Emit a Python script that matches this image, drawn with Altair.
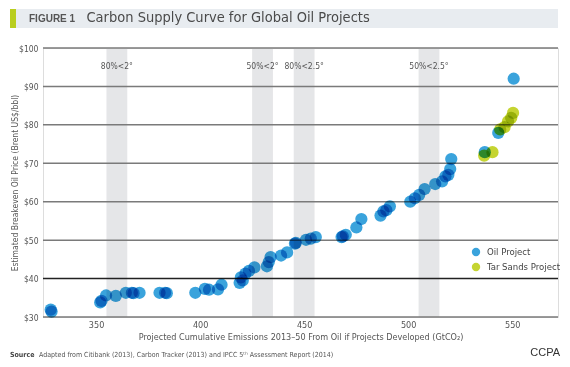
import altair as alt
import pandas as pd

# ---- data ----
oil_x = [328.2, 328.6, 352.0, 352.6, 354.8, 359.5, 364.3, 367.2, 368.0, 370.9,
         380.5, 383.2, 384.0, 397.7, 402.3, 404.3, 408.6, 410.3, 419.0, 419.6,
         420.5, 421.8, 423.5, 426.1, 432.1, 433.0, 433.9, 438.9, 441.8, 445.6,
         446.0, 450.9, 453.2, 455.6, 468.0, 468.6, 470.0, 475.1, 477.5, 486.7,
         488.1, 489.5, 491.2, 501.0, 503.2, 505.3, 507.9, 513.0, 516.3, 517.9,
         519.3, 520.2, 520.7, 536.8, 543.3, 550.7]
oil_y = [31.9, 31.4, 33.8, 34.2, 35.6, 35.5, 36.3, 36.3, 36.2, 36.3,
         36.3, 36.3, 36.2, 36.3, 37.3, 37.1, 37.2, 38.4, 38.9, 40.3,
         39.5, 41.3, 42.0, 42.9, 43.2, 44.3, 45.6, 46.0, 46.8, 49.1,
         49.3, 50.1, 50.4, 50.8, 50.8, 51.0, 51.4, 53.3, 55.5, 56.4,
         57.5, 57.8, 58.8, 60.0, 60.9, 61.8, 63.3, 64.6, 65.3, 66.6,
         67.0, 68.5, 71.1, 72.9, 77.9, 92.0]
tar_x = [536.5, 540.5, 544.2, 546.3, 548.0, 549.5, 550.4]
tar_y = [72.0, 72.9, 78.8, 79.4, 80.9, 81.8, 83.1]

series = ["Oil Project", "Tar Sands Project"]
series_colors = ["#3aa3dc", "#c5d431"]

band_start = [355, 425, 445, 505]
band_end = [365, 435, 455, 515]
band_labels = ["80%<2°", "50%<2°", "80%<2.5°", "50%<2.5°"]
band_label_y = 95.3

grid_vals = [30, 40, 50, 60, 70, 80, 90, 100]
x_ticks = [350, 400, 450, 500, 550]

x_domain = [324.5, 572.0]
y_domain = [30, 100]

title_bold = "FIGURE 1"
title_main = "Carbon Supply Curve for Global Oil Projects"
source_bold = "Source"
source_text = "Adapted from Citibank (2013), Carbon Tracker (2013) and IPCC 5ᵗʰ Assessment Report (2014)"
credit = "CCPA"

FONT = "Liberation Sans Narrow, DejaVu Sans Condensed, Roboto, sans-serif"
W, H = 515, 269

# ---- tables ----
pts = pd.DataFrame({
    "x": oil_x + tar_x,
    "y": oil_y + tar_y,
    "type": [series[0]] * len(oil_x) + [series[1]] * len(tar_x),
    "order": [0] * len(oil_x) + [1] * len(tar_x),
})
bands = pd.DataFrame({"start": band_start, "end": band_end, "label": band_labels,
                      "mid": [(a + b) / 2 for a, b in zip(band_start, band_end)],
                      "ly": [band_label_y] * len(band_start)})
grid = pd.DataFrame({"v": grid_vals})

xs = alt.Scale(domain=x_domain, nice=False, zero=False)
ys = alt.Scale(domain=y_domain, nice=False, zero=False)

x_axis = alt.Axis(values=x_ticks, grid=False, domain=False, ticks=False,
                  labelFont=FONT, labelFontSize=9, labelColor="#555",
                  labelPadding=3, labelOverlap=False,
                  title="Projected Cumulative Emissions 2013–50 From Oil if Projects Developed (GtCO₂)",
                  titleFont=FONT, titleFontSize=9, titleFontWeight="normal",
                  titleColor="#555", titlePadding=3)
y_axis = alt.Axis(values=grid_vals, grid=False, domain=False, ticks=False,
                  labelExpr="'$' + datum.value", labelOverlap=False,
                  labelFont=FONT, labelFontSize=8.5, labelColor="#555",
                  labelPadding=5,
                  title="Estimated Breakeven Oil Price (Brent US$/bbl)",
                  titleFont=FONT, titleFontSize=8.5, titleFontWeight="normal",
                  titleColor="#555", titleX=-29, titleY=H / 2,
                  titleBaseline="middle", titleAlign="center", titleAngle=270)

band_rect = alt.Chart(bands).mark_rect(color="#e5e6e8").encode(
    x=alt.X("start:Q", scale=xs, axis=x_axis),
    x2="end:Q",
    y=alt.value(0), y2=alt.value(H),
)

grid_rule = alt.Chart(grid).mark_rule(strokeWidth=1.5).encode(
    y=alt.Y("v:Q", scale=ys, axis=y_axis),
    x=alt.value(0), x2=alt.value(W),
    color=alt.condition("datum.v == 40", alt.value("#222222"), alt.value("#7a7a7a")),
)

band_text = alt.Chart(bands).mark_text(font=FONT, fontSize=8.5, color="#555").encode(
    x=alt.X("mid:Q", scale=xs, axis=x_axis), y=alt.Y("ly:Q", scale=ys, axis=y_axis),
    text="label:N"
)

points = alt.Chart(pts).mark_circle(size=150, opacity=1, blend="multiply").encode(
    x=alt.X("x:Q", scale=xs, axis=x_axis),
    y=alt.Y("y:Q", scale=ys, axis=y_axis),
    color=alt.Color("type:N", scale=alt.Scale(domain=series, range=series_colors),
                    legend=alt.Legend(title=None, orient="none", legendX=428, legendY=199,
                                      symbolType="circle", symbolSize=70, symbolOpacity=1,
                                      labelFont=FONT, labelFontSize=9.5, labelColor="#444",
                                      labelOffset=6, rowPadding=5, padding=0)),
    order="order:Q",
)

one = pd.DataFrame({"t": [0]})
bar_bg = alt.Chart(one).mark_rect(color="#e8ecf0").encode(
    x=alt.value(-33), x2=alt.value(515), y=alt.value(-39), y2=alt.value(-20))
bar_green = alt.Chart(one).mark_rect(color="#b9ce1f").encode(
    x=alt.value(-33), x2=alt.value(-27), y=alt.value(-39), y2=alt.value(-20))

t1 = alt.Chart(pd.DataFrame({"t": [title_bold]})).mark_text(
    font="Liberation Sans, sans-serif", fontSize=10, fontWeight="bold", color="#555",
    align="left", baseline="middle").encode(
    x=alt.value(-14), y=alt.value(-29.5), text="t:N")
t2 = alt.Chart(pd.DataFrame({"t": [title_main]})).mark_text(
    font=FONT, fontSize=14.5, color="#4a4a4a", align="left", baseline="middle").encode(
    x=alt.value(43.5), y=alt.value(-30), text="t:N")
s1 = alt.Chart(pd.DataFrame({"t": [source_bold]})).mark_text(
    font=FONT, fontSize=7, fontWeight="bold", color="#444", align="left", baseline="middle").encode(
    x=alt.value(-33), y=alt.value(307), text="t:N")
s2 = alt.Chart(pd.DataFrame({"t": [source_text]})).mark_text(
    font=FONT, fontSize=7, color="#555", align="left", baseline="middle").encode(
    x=alt.value(-4), y=alt.value(307), text="t:N")
cc = alt.Chart(pd.DataFrame({"t": [credit]})).mark_text(
    font="Liberation Sans, Arial, sans-serif", fontSize=11, color="#333",
    align="right", baseline="middle").encode(
    x=alt.value(517), y=alt.value(305), text="t:N")

chart = alt.layer(
    band_rect, grid_rule, band_text, points, bar_bg, bar_green, t1, t2, s1, s2, cc
).properties(
    width=W, height=H,
    autosize=alt.AutoSizeParams(type="none"),
    padding={"left": 35, "top": 40, "right": 4, "bottom": 42},
).configure_view(stroke=None).configure_axis(
    labelOverlap=False, labelBound=False
).configure(background="white")

chart.save("out.html", embed_options={"renderer": "svg", "actions": False})
